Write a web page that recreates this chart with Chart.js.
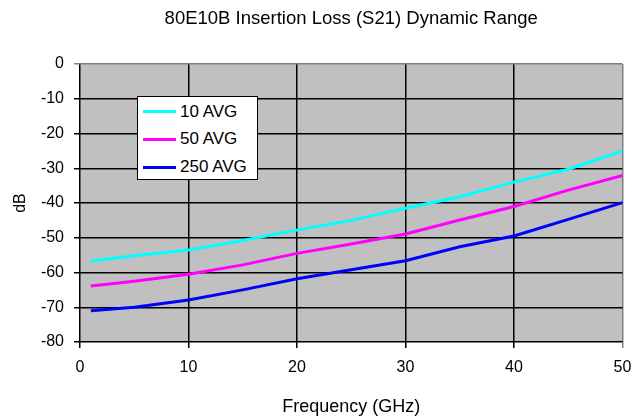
<!DOCTYPE html>
<html><head><meta charset="utf-8">
<script src="https://cdn.jsdelivr.net/npm/chart.js@4/dist/chart.umd.min.js"></script>
<style>
html,body{margin:0;padding:0;background:#fff;}
#wrap{position:relative;width:632px;height:420px;}
#title{position:absolute;top:7px;left:0;white-space:nowrap;font-family:Arial,"Liberation Sans",sans-serif;font-size:18.5px;line-height:22px;color:#000;transform:translateX(-50%);}
#legend{position:absolute;left:137px;top:96px;width:119px;height:82px;border:1px solid #000;background:#fff;font-family:Arial,"Liberation Sans",sans-serif;font-size:17px;color:#000;}
#legend .sw{position:absolute;left:5px;width:33px;height:3px;}
#legend .tx{position:absolute;left:42px;height:20px;line-height:20px;white-space:nowrap;}
</style></head>
<body><div id="wrap"><canvas id="c" width="632" height="420"></canvas><div id="title"></div><div id="legend"></div></div>
<script>
const titleText = "80E10B Insertion Loss (S21) Dynamic Range";
const xTitle = "Frequency (GHz)";
const yTitle = "dB";
const freqs = [1, 5, 10, 15, 20, 25, 30, 35, 40, 45, 50];
const avg10 = [-56.7, -55.2, -53.5, -50.8, -47.8, -45.0, -41.5, -38.2, -34.0, -30.3, -25.0];
const avg50 = [-63.9, -62.5, -60.5, -57.8, -54.5, -51.8, -48.9, -44.9, -41.0, -36.3, -32.1];
const avg250 = [-71.0, -70.0, -67.9, -65.0, -61.8, -59.2, -56.6, -52.6, -49.5, -44.7, -39.9];
const seriesNames = ["10 AVG", "50 AVG", "250 AVG"];
const seriesColors = ["#00FFFF", "#FF00FF", "#0000FF"];
const seriesValues = [avg10, avg50, avg250];

const font = "Arial, 'Liberation Sans', sans-serif";
const bgPlugin = {
  id: 'plotBg',
  beforeDraw(chart) {
    const a = chart.chartArea, ctx = chart.ctx;
    ctx.save(); ctx.fillStyle = '#C0C0C0';
    ctx.fillRect(a.left, a.top, a.right - a.left, a.bottom - a.top);
    ctx.restore();
  }
};

const datasets = seriesValues.map((vals, i) => ({
  label: seriesNames[i],
  data: freqs.map((f, j) => ({x: f, y: vals[j]})),
  borderColor: seriesColors[i],
  backgroundColor: seriesColors[i],
  borderWidth: 3,
  pointRadius: 0,
  tension: 0,
  fill: false
}));

const chart = new Chart(document.getElementById('c'), {
  type: 'line',
  data: { datasets },
  plugins: [bgPlugin],
  options: {
    responsive: false, animation: false,
    layout: { padding: { left: 0, right: 0, top: 64, bottom: 0 } },
    plugins: {
      legend: { display: false },
      tooltip: { enabled: false },
      title: { display: false }
    },
    scales: {
      x: {
        type: 'linear', min: 0, max: 50,
        ticks: { stepSize: 10, color: '#000', font: { family: font, size: 16 }, padding: 10, maxRotation: 0 },
        grid: { color: c => c.tick && c.tick.value === 50 ? '#808080' : '#000', lineWidth: 1.5, tickLength: 6 },
        border: { display: false },
        title: { display: true, text: xTitle, color: '#000', font: { family: font, size: 18 }, padding: { top: 0, bottom: 2 } },
        afterFit(s) { s.height = 78; s.paddingRight = 9.5; s.paddingLeft = 0; }
      },
      y: {
        min: -80, max: 0,
        ticks: { stepSize: 10, color: '#000', font: { family: font, size: 16 }, padding: 10 },
        grid: { color: c => c.tick && c.tick.value === 0 ? '#808080' : '#000', lineWidth: 1.5, tickLength: 6 },
        border: { display: false },
        title: { display: true, text: yTitle, color: '#000', font: { family: font, size: 16 }, padding: { top: 11 } },
        afterFit(s) { s.width = 80; }
      }
    }
  }
});

const t = document.getElementById('title');
t.textContent = titleText;
t.style.left = ((chart.chartArea.left + chart.chartArea.right) / 2) + 'px';

const leg = document.getElementById('legend');
const rowCenters = [14.5, 42, 70];
chart.data.datasets.forEach((d, i) => {
  const sw = document.createElement('div'); sw.className = 'sw';
  sw.style.background = d.borderColor; sw.style.top = (rowCenters[i] - 1.5) + 'px';
  const tx = document.createElement('div'); tx.className = 'tx';
  tx.style.top = (rowCenters[i] - 10) + 'px'; tx.textContent = d.label;
  leg.appendChild(sw); leg.appendChild(tx);
});
</script></body></html>
